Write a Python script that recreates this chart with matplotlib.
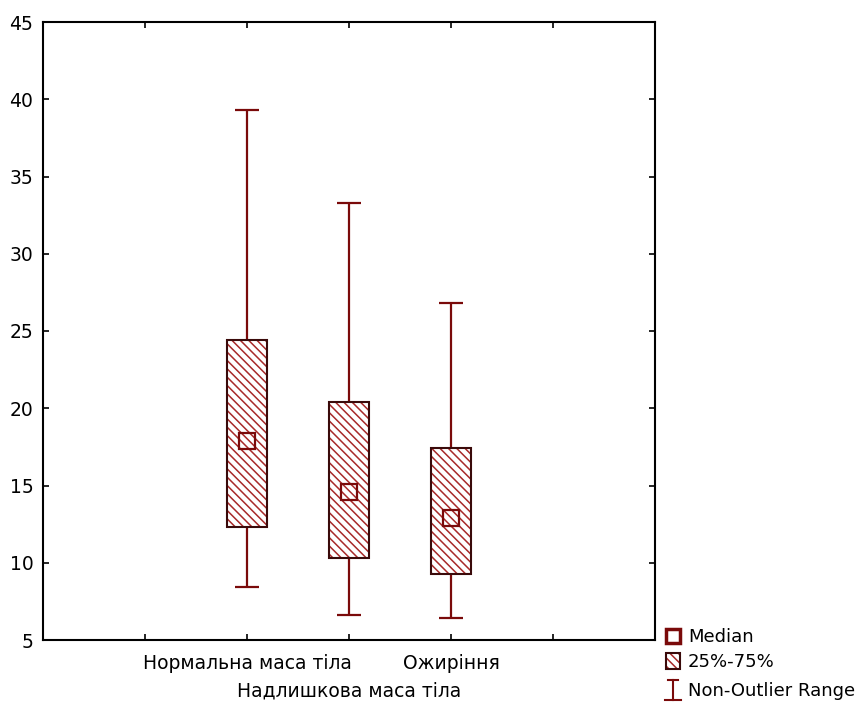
import numpy as np
import matplotlib
matplotlib.use("Agg")
from matplotlib import pyplot as plt
from matplotlib.patches import Rectangle
from matplotlib.lines import Line2D

plt.rcParams['font.family'] = ['DejaVu Sans']

# data
groups = ["Нормальна маса тіла", "Надлишкова маса тіла", "Ожиріння"]
positions = [2, 3, 4]
whisker_low = [8.4, 6.6, 6.4]
q1 = [12.3, 10.3, 9.3]
median = [17.9, 14.6, 12.9]
q3 = [24.4, 20.4, 17.4]
whisker_high = [39.3, 33.3, 26.8]

dark = "#7a0a0a"
hatch_col = "#a82a2a"
W, H = 866, 702

def fx(x):
    return x / W

def fy(y):
    return 1 - y / H

fig = plt.figure(figsize=(8.66, 7.02), dpi=100)
ax = fig.add_axes([43/W, 62/H, 612/W, 618/H])

box_w = 0.4
cap_w = 0.24

heights = [h - l for l, h in zip(q1, q3)]
plt.rcParams['hatch.linewidth'] = 1.1
ax.bar(positions, heights, bottom=q1, width=box_w, color="white",
       edgecolor=hatch_col, hatch="\\\\\\\\", linewidth=0, zorder=2)
ax.bar(positions, heights, bottom=q1, width=box_w, fill=False,
       edgecolor="#3a0a0a", linewidth=1.5, zorder=3)

ax.vlines(positions, q3, whisker_high, color=dark, lw=1.6, zorder=2)
ax.vlines(positions, whisker_low, q1, color=dark, lw=1.6, zorder=2)
ax.hlines(whisker_high, np.array(positions) - cap_w/2, np.array(positions) + cap_w/2, color=dark, lw=1.6)
ax.hlines(whisker_low, np.array(positions) - cap_w/2, np.array(positions) + cap_w/2, color=dark, lw=1.6)

ax.plot(positions, median, ls="none", marker="s", ms=11, mfc="none",
        mec=dark, mew=1.6, zorder=4)

ax.set_xlim(0, 6)
ax.set_ylim(5, 45)
ax.set_yticks(np.arange(5, 46, 5))
ax.set_xticks([1, 2, 3, 4, 5])
ax.set_xticklabels(["", groups[0], groups[1], groups[2], ""])
ax.tick_params(direction="in", length=4, width=1.2, top=True, right=True,
               labelsize=13.5)
ax.tick_params(axis="y", pad=7)
ax.tick_params(axis="x", pad=10)
# middle group label sits on a second row
ax.get_xticklabels()[2].set_y(-28/618)
for s in ax.spines.values():
    s.set_linewidth(1.5)

# legend at lower right, outside the axes
lx = 673
fig.add_artist(Line2D([fx(lx)], [fy(636)], marker="s", ms=10, mfc="white",
                      mec=dark, mew=2.5, ls="none", transform=fig.transFigure))
fig.add_artist(Rectangle((fx(lx - 7), fy(669)), 14/W, 16/H,
                         transform=fig.transFigure, facecolor="white",
                         edgecolor=hatch_col, hatch="\\\\\\\\", lw=0))
fig.add_artist(Rectangle((fx(lx - 7), fy(669)), 14/W, 16/H,
                         transform=fig.transFigure, fill=False,
                         edgecolor="#3a0a0a", lw=1.5))
fig.add_artist(Line2D([fx(lx), fx(lx)], [fy(680), fy(700)], color=dark, lw=1.5,
                      transform=fig.transFigure))
fig.add_artist(Line2D([fx(lx - 5), fx(lx + 5)], [fy(680), fy(680)], color=dark, lw=1.5,
                      transform=fig.transFigure))
fig.add_artist(Line2D([fx(lx - 8), fx(lx + 8)], [fy(700), fy(700)], color=dark, lw=1.5,
                      transform=fig.transFigure))
labels = ["Median", "25%-75%", "Non-Outlier Range"]
ys = [637, 662, 691]
for lab, yy in zip(labels, ys):
    fig.text(fx(688), fy(yy), lab, fontsize=13, va="center", ha="left")

plt.savefig("out.png", dpi=100)
